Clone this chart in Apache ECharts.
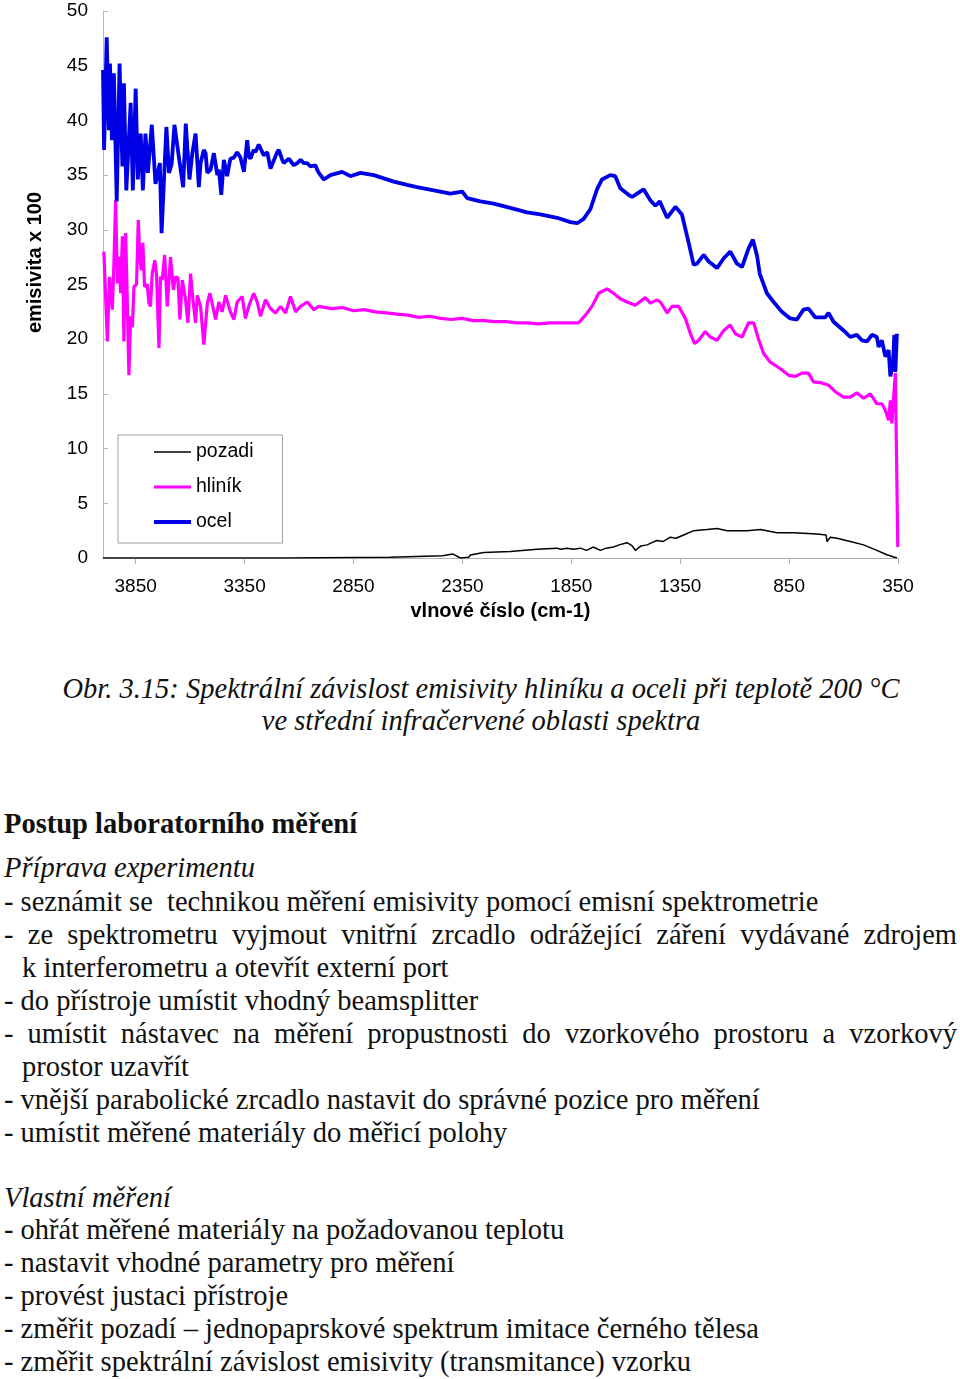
<!DOCTYPE html>
<html><head><meta charset="utf-8">
<script src="https://cdn.jsdelivr.net/npm/echarts@6/dist/echarts.min.js"></script>
<style>
html,body{margin:0;padding:0;background:#fff;}
#chart{position:absolute;left:0;top:0;width:960px;height:640px;}
.t{position:absolute;font-family:"Liberation Serif","Times New Roman",serif;font-size:28.5px;line-height:33px;color:#111;white-space:pre;}
.c{left:0;width:962px;text-align:center;font-style:italic;}
.j{left:4px;width:953px;text-align:justify;text-align-last:justify;white-space:normal;}
</style></head><body>
<div id="chart"></div>
<div class="t c" style="top:672px">Obr. 3.15: Spektrální závislost emisivity hliníku a oceli při teplotě 200 °C</div>
<div class="t c" style="top:704px">ve střední infračervené oblasti spektra</div>
<div class="t" style="top:807px;left:4px;font-weight:bold">Postup laboratorního měření</div>
<div class="t" style="top:851px;left:4px;font-style:italic">Příprava experimentu</div>
<div class="t" style="top:885px;left:4px">- seznámit se  technikou měření emisivity pomocí emisní spektrometrie</div>
<div class="t j" style="top:918px">- ze spektrometru vyjmout vnitřní zrcadlo odrážející záření vydávané zdrojem</div>
<div class="t" style="top:951px;left:22px">k interferometru a otevřít externí port</div>
<div class="t" style="top:984px;left:4px">- do přístroje umístit vhodný beamsplitter</div>
<div class="t j" style="top:1017px">- umístit nástavec na měření propustnosti do vzorkového prostoru a vzorkový</div>
<div class="t" style="top:1050px;left:22px">prostor uzavřít</div>
<div class="t" style="top:1083px;left:4px">- vnější parabolické zrcadlo nastavit do správné pozice pro měření</div>
<div class="t" style="top:1116px;left:4px">- umístit měřené materiály do měřicí polohy</div>
<div class="t" style="top:1181px;left:4px;font-style:italic">Vlastní měření</div>
<div class="t" style="top:1213px;left:4px">- ohřát měřené materiály na požadovanou teplotu</div>
<div class="t" style="top:1246px;left:4px">- nastavit vhodné parametry pro měření</div>
<div class="t" style="top:1279px;left:4px">- provést justaci přístroje</div>
<div class="t" style="top:1312px;left:4px">- změřit pozadí – jednopaprskové spektrum imitace černého tělesa</div>
<div class="t" style="top:1345px;left:4px">- změřit spektrální závislost emisivity (transmitance) vzorku</div>
<script>
// ---- data (wavenumber cm-1, emissivity x 100) ----
const seriesNames = ['pozadi', 'hliník', 'ocel'];

const ocelWn = [4000,3995,3983,3973,3968,3959,3950,3937,3924,3911,3904,3893,3873,3863,3850,3840,3827,3817,3805,3794,3776,3759,3739,3731,3709,3697,3685,3672,3652,3632,3620,3603,3590,3575,3560,3552,3537,3529,3521,3506,3491,3475,3468,3457,3445,3430,3422,3415,3407,3399,3392,3384,3376,3369,3361,3353,3338,3330,3323,3308,3300,3285,3277,3262,3254,3246,3231,3200,3193,3177,3170,3147,3139,3124,3108,3093,3078,3063,3047,3024,3017,3009,2986,2956,2902,2864,2818,2757,2711,2665,2604,2558,2481,2405,2351,2328,2267,2206,2130,2053,1992,1915,1854,1823,1793,1762,1732,1709,1701,1671,1648,1625,1587,1571,1548,1518,1487,1464,1444,1410,1372,1342,1311,1288,1273,1242,1219,1181,1150,1120,1089,1066,1036,1016,997,985,952,921,883,845,814,784,761,730,684,669,646,600,569,539,516,492,470,447,439,424,408,393,385,373,367,362,355];
const ocel   = [44.6,37.3,47.6,39.1,45.2,38.2,44.3,32.6,45.2,35.8,43.4,33.6,41.6,33.6,42.9,34.6,38.8,33.6,38.8,35.2,39.6,34.2,36.1,29.7,39.4,35.2,36.0,39.6,36.7,33.9,39.7,34.6,37.0,38.8,33.9,36.1,37.3,37.0,35.2,35.5,37.0,35.0,35.5,33.2,36.4,34.9,35.8,36.5,36.4,36.6,36.7,37.1,37.0,36.6,36.7,35.3,38.2,36.7,36.5,37.3,37.1,37.8,37.8,36.8,36.7,37.1,35.6,37.1,37.3,36.4,36.1,36.5,36.4,35.9,36.1,36.4,36.1,36.1,35.8,35.9,35.5,35.2,34.6,35.0,35.3,34.9,35.2,35.0,34.7,34.4,34.1,33.9,33.6,33.3,33.5,32.9,32.6,32.4,32.0,31.6,31.4,31.1,30.7,30.6,31.0,31.9,33.7,34.6,34.7,35.0,34.9,33.8,33.2,33.0,33.3,33.7,32.7,32.2,32.6,31.1,32.1,31.4,28.8,26.8,26.9,27.7,27.1,26.5,27.4,28.0,26.9,26.6,28.3,29.1,27.6,26.0,24.2,23.4,22.5,21.9,21.8,22.7,22.8,22.0,22.0,22.4,21.6,20.8,20.2,20.4,19.9,19.8,20.4,20.2,19.3,19.9,18.4,19.0,16.6,17.8,20.4,17.0,20.5];

const hlinikWn = [3996,3980,3970,3957,3950,3942,3934,3927,3919,3911,3904,3896,3888,3881,3873,3865,3858,3846,3838,3831,3824,3817,3809,3797,3789,3782,3774,3762,3754,3743,3736,3728,3717,3705,3690,3677,3667,3656,3647,3636,3621,3610,3598,3587,3575,3567,3552,3537,3521,3509,3483,3468,3453,3437,3415,3399,3384,3361,3346,3331,3308,3292,3277,3254,3231,3208,3185,3162,3139,3116,3093,3062,3032,3009,2950,2900,2850,2800,2750,2700,2650,2600,2550,2500,2450,2400,2350,2300,2250,2200,2150,2100,2050,2000,1950,1900,1816,1785,1755,1724,1686,1656,1625,1594,1556,1510,1487,1457,1441,1410,1388,1357,1326,1303,1284,1265,1235,1212,1181,1150,1120,1097,1066,1036,1013,990,967,936,890,852,821,791,761,738,699,669,638,600,569,539,508,477,447,424,408,393,385,378,370,362,354,351];
const hlinik   = [28.0,19.8,25.7,22.7,26.8,32.7,25.1,27.5,24.2,29.4,19.8,29.7,23.0,16.7,22.1,21.1,24.8,25.0,30.9,27.5,26.3,28.8,24.8,25.0,23.3,23.0,26.0,27.2,25.8,19.2,25.7,25.4,27.7,23.0,27.5,24.5,25.7,25.6,21.8,25.4,23.6,21.5,26.0,23.6,21.5,24.0,23.0,19.5,23.3,24.2,21.8,23.4,22.5,24.0,22.5,21.8,23.4,23.9,21.9,23.0,24.2,23.4,22.1,23.6,22.8,22.4,23.0,22.4,23.9,22.5,23.0,23.4,22.7,23.0,22.8,22.9,22.6,22.7,22.5,22.4,22.3,22.2,22.0,22.1,21.9,21.8,21.9,21.7,21.7,21.6,21.6,21.5,21.5,21.4,21.5,21.5,21.5,22.2,23.0,24.2,24.6,24.2,23.7,23.4,23.1,23.8,23.3,23.6,23.4,22.4,23.0,23.0,21.9,20.5,19.6,19.9,20.7,20.2,19.9,20.8,21.3,20.5,20.2,21.5,21.5,20.0,18.7,17.9,17.3,16.7,16.6,16.9,16.9,16.1,16.0,15.8,15.2,14.7,14.7,15.1,14.6,15.0,14.1,14.1,13.5,12.6,14.4,12.3,14.7,16.9,17.0,1.0];

const pozadiWn = [4000,3150,3148,2682,2680,2440,2436,2395,2390,2359,2321,2313,2252,2130,2007,1915,1900,1870,1840,1808,1780,1750,1716,1690,1656,1630,1594,1570,1556,1530,1502,1480,1457,1430,1395,1370,1334,1288,1227,1181,1135,1043,982,905,829,722,680,676,661,630,569,508,447,401,355];
const pozadi   = [0.0,0.0,0.07,0.07,0.2,0.2,0.37,0.37,0.2,0.0,0.06,0.27,0.5,0.6,0.8,0.9,0.8,0.9,0.8,0.9,0.7,1.0,0.7,0.9,1.0,1.2,1.4,1.1,0.7,1.1,1.2,1.4,1.6,1.5,1.9,1.8,2.1,2.5,2.6,2.7,2.5,2.5,2.6,2.3,2.3,2.2,2.1,1.5,1.9,1.8,1.5,1.2,0.7,0.3,0.0];

const xTicks = {min: 350, max: 4000, step: 500};
const yTicks = {min: 0, max: 50, step: 5};

function zip(a, b) { return a.map((w, i) => [w, b[i]]); }
// legend line samples: bounding box 37x14, bar of given thickness in the middle
function lineIcon(th) {
  const a = 7 - th / 2, b = 7 + th / 2;
  return 'path://M0,0 M37,14 M0,' + a + ' L37,' + a + ' L37,' + b + ' L0,' + b + ' Z';
}

const chart = echarts.init(document.getElementById('chart'), null, {renderer: 'canvas'});
const font = '"Liberation Sans", Arial, sans-serif';
const colors = ['#000000', '#ff00ff', '#0000e6'];
chart.setOption({
  animation: false,
  textStyle: {fontFamily: font},
  grid: {left: 103, top: 11, width: 795, height: 547},
  xAxis: {
    type: 'value', inverse: true, min: xTicks.min, max: xTicks.max, interval: xTicks.step,
    name: 'vlnové číslo (cm-1)', nameLocation: 'middle', nameGap: 43,
    nameTextStyle: {fontSize: 20, fontWeight: 'bold', color: '#000', fontFamily: font},
    axisLine: {lineStyle: {color: '#b0b0b0', width: 1}},
    axisTick: {show: true, length: 6, lineStyle: {color: '#b0b0b0'}},
    axisLabel: {fontSize: 19, color: '#000', margin: 19, showMaxLabel: false, fontFamily: font,
      formatter: v => String(v)},
    splitLine: {show: false}
  },
  yAxis: {
    type: 'value', min: yTicks.min, max: yTicks.max, interval: yTicks.step,
    name: 'emisivita x 100', nameLocation: 'middle', nameGap: 58, nameRotate: 90,
    nameTextStyle: {fontSize: 20, fontWeight: 'bold', color: '#000', fontFamily: font, padding: [0, 0, 0, 44]},
    axisLine: {show: true, lineStyle: {color: '#b8b8b8', width: 1}},
    axisTick: {show: true, inside: true, length: 5, lineStyle: {color: '#b8b8b8'}},
    axisLabel: {fontSize: 19, color: '#000', margin: 15, fontFamily: font, formatter: v => String(v)},
    splitLine: {show: false}
  },
  legend: {
    orient: 'vertical', left: 118, top: 435,
    itemWidth: 37, itemHeight: 14, itemGap: 15,
    padding: [7, 29, 11, 36],
    borderColor: '#a0a0a0', borderWidth: 1, backgroundColor: '#fff',
    textStyle: {fontSize: 19.5, color: '#000', fontFamily: font},
    data: [
      {name: seriesNames[0], icon: lineIcon(1.6)},
      {name: seriesNames[1], icon: lineIcon(3)},
      {name: seriesNames[2], icon: lineIcon(4)}
    ]
  },
  series: [
    {name: seriesNames[0], type: 'line', symbol: 'none', data: zip(pozadiWn, pozadi),
     lineStyle: {color: colors[0], width: 1.5}, itemStyle: {color: colors[0]}, z: 2},
    {name: seriesNames[1], type: 'line', symbol: 'none', data: zip(hlinikWn, hlinik),
     lineStyle: {color: colors[1], width: 3.2}, itemStyle: {color: colors[1]}, z: 3},
    {name: seriesNames[2], type: 'line', symbol: 'none', data: zip(ocelWn, ocel),
     lineStyle: {color: colors[2], width: 3.8}, itemStyle: {color: colors[2]}, z: 4}
  ]
});
</script>
</body></html>
